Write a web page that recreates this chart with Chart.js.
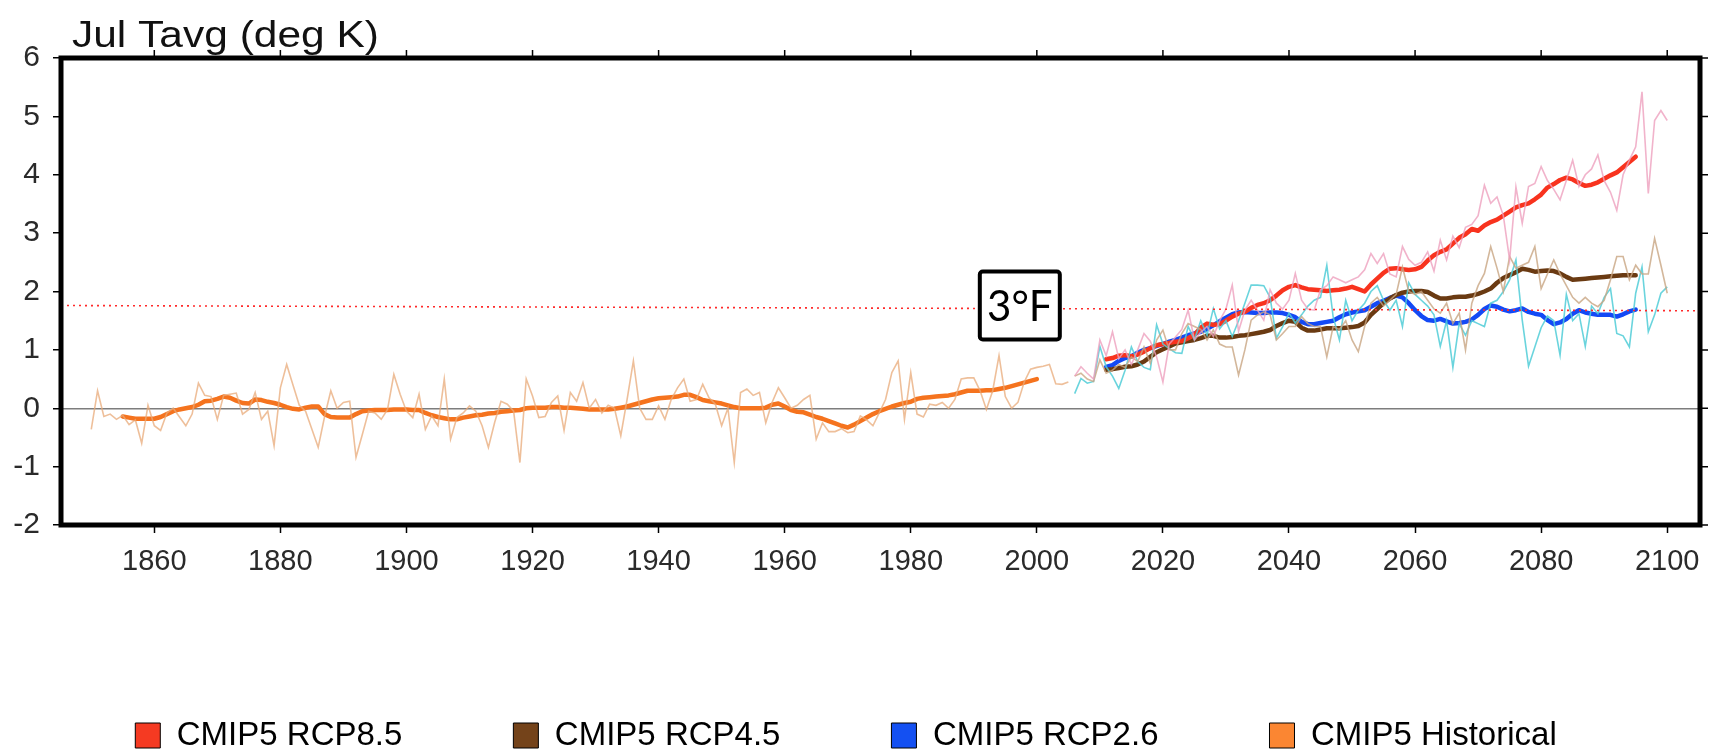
<!DOCTYPE html>
<html><head><meta charset="utf-8">
<script src="https://cdn.jsdelivr.net/npm/chart.js@4/dist/chart.umd.min.js"></script>
<style>html,body{margin:0;padding:0;background:#fff}</style>
</head><body>
<canvas id="c" width="1721" height="751"></canvas>
<script>
// ---------------- DATA ----------------
const titleText = 'Jul Tavg (deg K)';
const annotText = '3°F';
const xTickValues = [1860,1880,1900,1920,1940,1960,1980,2000,2020,2040,2060,2080,2100];
const xTickLabels = ['1860','1880','1900','1920','1940','1960','1980','2000','2020','2040','2060','2080','2100'];
const yTickValues = [-2,-1,0,1,2,3,4,5,6];
const yTickLabels = ['-2','-1','0','1','2','3','4','5','6'];
const legendNames = ['CMIP5 RCP8.5','CMIP5 RCP4.5','CMIP5 RCP2.6','CMIP5 Historical'];

// 3°F threshold (deg K) at left and right edge of the plot
const thresholdYears = [1845.2, 2105.2];
const thresholdValues = [1.76, 1.67];
const annotYear = 1997.3, annotValue = 1.76;

const histAnnualStart = 1850;
const histAnnual = [
 -0.36,0.30,-0.14,-0.10,-0.19,-0.12,-0.28,-0.20,-0.60,0.05,
 -0.30,-0.38,-0.08,0.00,-0.15,-0.30,-0.10,0.43,0.22,0.20,
 -0.19,0.22,0.24,0.26,-0.10,-0.02,0.27,-0.19,-0.05,-0.64,
 0.35,0.75,0.40,0.05,-0.05,-0.36,-0.67,-0.15,0.30,0.00,
 0.10,0.12,-0.84,-0.45,-0.05,-0.08,-0.19,-0.02,0.58,0.24,
 -0.05,-0.16,0.24,-0.36,-0.13,-0.30,0.50,-0.53,-0.16,-0.08,
 0.04,-0.05,-0.30,-0.67,-0.24,0.12,0.07,-0.05,-0.93,0.50,
 0.21,-0.16,-0.14,0.10,0.21,-0.38,0.27,0.12,0.44,0.00,
 0.15,-0.08,0.05,0.00,-0.47,0.15,0.81,0.00,-0.19,-0.19,
 0.04,-0.19,0.15,0.35,0.50,0.12,0.15,0.41,0.18,0.07,
 -0.30,0.00,-0.93,0.27,0.33,0.22,0.27,-0.25,0.10,0.35,
 0.18,0.00,0.05,0.15,0.22,-0.53,-0.25,-0.40,-0.40,-0.35,
 -0.42,-0.40,-0.13,-0.20,-0.30,-0.08,0.15,0.61,0.81,-0.19,
 0.61,-0.10,-0.15,0.07,0.05,0.10,0.00,0.15,0.50,0.52,
 0.52,0.30,-0.02,0.30,0.90,0.20,0.00,0.10,0.45,0.67,
 0.70,0.72,0.75,0.42,0.41,0.45
];

const histSmoothStart = 1855;
const histSmooth = [
 -0.14,-0.16,-0.18,-0.18,-0.18,-0.18,-0.15,-0.10,-0.05,-0.02,
 0.00,0.02,0.06,0.12,0.13,0.16,0.20,0.18,0.13,0.09,
 0.08,0.15,0.14,0.11,0.09,0.06,0.02,-0.01,-0.02,0.01,
 0.03,0.03,-0.10,-0.15,-0.16,-0.16,-0.16,-0.10,-0.05,-0.04,
 -0.03,-0.03,-0.03,-0.02,-0.02,-0.02,-0.03,-0.03,-0.08,-0.12,
 -0.15,-0.17,-0.19,-0.19,-0.16,-0.14,-0.12,-0.11,-0.09,-0.08,
 -0.06,-0.05,-0.04,-0.03,0.00,0.01,0.01,0.01,0.02,0.02,
 0.01,0.01,0.00,-0.01,-0.02,-0.02,-0.02,-0.02,-0.01,0.01,
 0.03,0.06,0.09,0.12,0.15,0.17,0.18,0.19,0.20,0.23,
 0.23,0.19,0.14,0.12,0.10,0.08,0.05,0.02,0.00,0.00,
 0.00,0.00,0.01,0.06,0.08,0.03,-0.03,-0.06,-0.07,-0.11,
 -0.15,-0.18,-0.22,-0.26,-0.30,-0.33,-0.28,-0.22,-0.16,-0.10,
 -0.05,-0.01,0.03,0.06,0.09,0.11,0.16,0.18,0.19,0.20,
 0.21,0.22,0.24,0.27,0.30,0.30,0.30,0.31,0.31,0.33,
 0.35,0.38,0.41,0.44,0.47,0.50
];

const futAnnualStart = 2006;
const rcp85Annual = [
 0.55,0.71,0.60,0.50,1.17,0.90,1.31,0.85,1.00,0.75,
 1.00,1.28,1.15,0.88,0.45,1.10,1.22,1.35,1.68,1.17,
 1.30,1.40,1.23,1.50,1.70,2.11,1.32,1.68,1.85,1.68,
 1.51,2.03,1.80,1.70,1.85,2.31,1.85,1.70,1.68,2.03,
 2.10,2.25,2.20,2.15,2.20,2.25,2.37,2.65,2.48,2.65,
 2.30,2.25,2.77,2.55,2.45,2.50,2.68,2.35,2.88,2.54,
 2.95,2.75,3.10,3.15,3.30,3.82,3.51,3.62,3.30,2.54,
 3.79,3.17,3.80,3.85,4.14,3.90,3.75,3.57,3.90,4.25,
 3.80,4.00,4.10,4.34,3.90,3.70,3.39,4.00,4.25,4.48,
 5.42,3.68,4.93,5.10,4.93
];
const rcp45Annual = [
 0.55,0.60,0.50,0.46,0.83,0.60,0.65,0.75,0.70,0.88,
 0.80,1.05,0.77,1.17,1.34,1.00,1.00,1.28,1.45,1.40,
 1.35,1.17,1.34,1.10,1.05,1.05,0.57,1.00,1.51,1.60,
 1.65,1.60,1.17,1.28,1.40,1.40,1.57,1.45,1.40,1.40,
 0.88,1.40,1.35,1.50,1.17,0.97,1.40,1.80,1.90,1.75,
 1.85,1.95,2.42,2.00,1.95,2.00,1.85,1.70,1.63,1.80,
 1.45,1.63,1.00,1.80,2.10,2.31,2.77,2.40,2.00,2.60,
 2.40,2.45,2.50,2.77,2.05,2.30,2.54,2.30,2.10,1.90,
 1.80,1.90,1.80,1.74,1.85,2.20,2.60,2.60,2.20,2.45,
 2.30,2.30,2.91,2.45,1.97
];
const rcp26Annual = [
 0.25,0.51,0.43,0.46,1.06,0.71,0.55,0.34,0.65,1.05,
 0.80,0.70,0.66,1.43,1.10,1.02,0.95,0.94,1.40,1.17,
 1.50,1.25,1.71,1.36,1.50,1.23,1.50,1.80,2.11,2.11,
 2.10,1.90,1.20,1.40,1.63,1.46,1.60,1.75,1.85,1.90,
 2.45,1.57,1.17,1.85,1.50,1.68,1.80,2.00,2.10,1.85,
 1.68,1.85,1.40,2.15,1.95,1.85,1.75,1.60,1.06,1.50,
 0.70,1.45,1.25,1.50,1.45,1.40,1.80,1.85,2.00,2.20,
 2.54,1.51,0.72,1.05,1.38,1.58,1.50,0.91,1.95,1.50,
 1.62,1.06,1.75,1.62,1.90,2.05,1.28,1.24,1.05,1.97,
 2.42,1.31,1.60,1.97,2.08
];

const futSmoothStart = 2011;
const rcp85Smooth = [
 0.84,0.86,0.90,0.91,0.89,0.92,0.97,1.03,1.08,1.10,
 1.12,1.14,1.15,1.20,1.26,1.38,1.45,1.43,1.44,1.50,
 1.57,1.62,1.65,1.72,1.77,1.80,1.85,1.93,2.02,2.08,
 2.11,2.07,2.04,2.03,2.02,2.01,2.02,2.03,2.05,2.08,
 2.04,2.00,2.12,2.22,2.32,2.39,2.40,2.38,2.37,2.38,
 2.42,2.53,2.62,2.68,2.72,2.82,2.92,2.98,3.07,3.04,
 3.13,3.19,3.23,3.30,3.37,3.44,3.48,3.51,3.58,3.66,
 3.78,3.84,3.91,3.95,3.92,3.86,3.81,3.83,3.87,3.93,
 3.99,4.04,4.13,4.22,4.31
];
const rcp45Smooth = [
 0.66,0.67,0.69,0.71,0.72,0.75,0.80,0.88,0.96,1.01,
 1.06,1.11,1.13,1.15,1.17,1.20,1.24,1.24,1.21,1.21,
 1.22,1.24,1.25,1.27,1.29,1.31,1.34,1.41,1.46,1.50,
 1.48,1.38,1.33,1.33,1.35,1.37,1.37,1.37,1.38,1.39,
 1.41,1.47,1.60,1.70,1.80,1.88,1.94,1.98,2.00,2.01,
 2.01,1.99,1.93,1.88,1.88,1.90,1.91,1.91,1.93,1.96,
 2.00,2.05,2.15,2.23,2.28,2.33,2.39,2.37,2.34,2.35,
 2.36,2.35,2.31,2.25,2.20,2.21,2.22,2.23,2.24,2.25,
 2.26,2.27,2.28,2.28,2.28
];
const rcp26Smooth = [
 0.71,0.74,0.81,0.86,0.89,0.95,1.00,1.03,1.07,1.10,
 1.14,1.17,1.21,1.25,1.28,1.31,1.36,1.42,1.49,1.55,
 1.61,1.64,1.65,1.64,1.63,1.63,1.64,1.64,1.63,1.60,
 1.56,1.48,1.44,1.44,1.46,1.48,1.50,1.56,1.61,1.64,
 1.66,1.68,1.74,1.80,1.84,1.89,1.93,1.90,1.80,1.68,
 1.58,1.51,1.50,1.53,1.49,1.45,1.46,1.48,1.52,1.60,
 1.70,1.76,1.74,1.69,1.66,1.68,1.71,1.65,1.62,1.60,
 1.51,1.44,1.47,1.53,1.62,1.68,1.64,1.62,1.60,1.60,
 1.60,1.57,1.61,1.66,1.69
];

// ---------------- STYLE ----------------
const legendColors = ['#f53a22','#74431a','#1450f2','#fb8632'];
const FONT = '"Liberation Sans", Arial, Helvetica, sans-serif';

const pts = (start, arr) => arr.map((v, i) => ({x: start + i, y: v}));
const thin = (label, data, color) => ({label, data, borderColor: color, borderWidth: 1.6, pointRadius: 0, fill: false, tension: 0});
const thick = (label, data, color) => ({label, data, borderColor: color, borderWidth: 4.5, pointRadius: 0, fill: false, tension: 0, borderJoinStyle: 'round', borderCapStyle: 'round'});

const datasets = [
  {label: 'threshold', data: thresholdYears.map((x, i) => ({x, y: thresholdValues[i]})), borderColor: '#ff2a2a', borderWidth: 1.6, borderDash: [2, 4], pointRadius: 0, fill: false},
  thin('hist annual', pts(histAnnualStart, histAnnual), 'rgba(232,170,120,0.75)'),
  thin('rcp85 annual', pts(futAnnualStart, rcp85Annual), 'rgba(238,160,190,0.8)'),
  thin('rcp45 annual', pts(futAnnualStart, rcp45Annual), 'rgba(200,165,130,0.8)'),
  thin('rcp26 annual', pts(futAnnualStart, rcp26Annual), 'rgba(80,205,215,0.85)'),
  thick(legendNames[3], pts(histSmoothStart, histSmooth), '#f5731e'),
  thick(legendNames[0], pts(futSmoothStart, rcp85Smooth), '#f8331e'),
  thick(legendNames[1], pts(futSmoothStart, rcp45Smooth), '#6a3a12'),
  thick(legendNames[2], pts(futSmoothStart, rcp26Smooth), '#1449f5'),
];

const framePlugin = {
  id: 'frame',
  afterDatasetsDraw(chart) {
    const {ctx, scales: {x, y}} = chart;
    const cx = x.getPixelForValue(annotYear), cy = y.getPixelForValue(annotValue);
    const w = 80, h = 68;
    ctx.save();
    ctx.fillStyle = '#fff';
    ctx.strokeStyle = '#000';
    ctx.lineWidth = 4;
    ctx.beginPath();
    if (ctx.roundRect) ctx.roundRect(cx - w / 2, cy - h / 2, w, h, 3); else ctx.rect(cx - w / 2, cy - h / 2, w, h);
    ctx.fill(); ctx.stroke();
    ctx.fillStyle = '#000';
    ctx.font = '42px Lato, "Open Sans", sans-serif';
    ctx.textAlign = 'center'; ctx.textBaseline = 'middle';
    ctx.fillText(annotText, cx, cy + 2);
    ctx.restore();
  },
  afterDraw(chart) {
    const {ctx, chartArea: a, scales: {x, y}} = chart;
    ctx.save();
    ctx.strokeStyle = '#000';
    ctx.lineWidth = 1.5;
    ctx.beginPath();
    x.ticks.forEach(t => { const px = x.getPixelForValue(t.value); ctx.moveTo(px, a.top); ctx.lineTo(px, a.top - 8); });
    y.ticks.forEach(t => { const py = y.getPixelForValue(t.value); ctx.moveTo(a.right, py); ctx.lineTo(a.right + 8, py); });
    ctx.stroke();
    ctx.lineWidth = 5;
    ctx.strokeRect(a.left, a.top, a.right - a.left, a.bottom - a.top);
    // title: the source type is wider than Liberation Sans, so stretch it horizontally
    ctx.fillStyle = '#111';
    ctx.font = '36px ' + FONT;
    ctx.textAlign = 'left'; ctx.textBaseline = 'alphabetic';
    ctx.translate(72, 47);
    ctx.scale(1.18, 1);
    ctx.fillText(titleText, 0, 0);
    ctx.restore();
  }
};

new Chart(document.getElementById('c'), {
  type: 'line',
  data: {datasets},
  options: {
    responsive: false,
    animation: false,
    devicePixelRatio: 1,
    layout: {padding: {left: -8, right: 21, top: 58, bottom: -11}},
    plugins: {
      tooltip: {enabled: false},
      title: {display: false},
      legend: {
        position: 'bottom',
        labels: {
          boxWidth: 25, boxHeight: 25, padding: 111,
          color: '#111',
          font: {size: 33, family: FONT},
          generateLabels: () => legendNames.map((t, i) => ({
            text: t, fillStyle: legendColors[i], strokeStyle: '#000', lineWidth: 1, hidden: false, datasetIndex: i
          }))
        }
      }
    },
    scales: {
      x: {
        type: 'linear', min: 1845.2, max: 2105.2,
        afterBuildTicks: s => { s.ticks = xTickValues.map(v => ({value: v})); },
        afterFit: s => { s.height = 83; },
        ticks: {
          autoSkip: false, maxRotation: 0, padding: 12, color: '#2a2a2a',
          font: {size: 29, family: FONT},
          callback: v => xTickLabels[xTickValues.indexOf(v)]
        },
        grid: {drawOnChartArea: false, drawTicks: true, tickLength: 8, tickColor: '#000', tickWidth: 1.5},
        border: {display: false}
      },
      y: {
        type: 'linear', min: -2, max: 6,
        afterBuildTicks: s => { s.ticks = yTickValues.map(v => ({value: v})); },
        afterFit: s => { s.width = 69; },
        ticks: {
          padding: 13, color: '#2a2a2a',
          font: {size: 30, family: FONT},
          callback: v => yTickLabels[yTickValues.indexOf(v)]
        },
        grid: {
          drawOnChartArea: true, drawTicks: true, tickLength: 8,
          color: c => (c.tick && c.tick.value === 0) ? '#7d7d7d' : 'rgba(0,0,0,0)',
          lineWidth: 1.5, tickColor: '#000', tickWidth: 1.5
        },
        border: {display: false}
      }
    }
  },
  plugins: [framePlugin]
});
</script>
</body></html>
